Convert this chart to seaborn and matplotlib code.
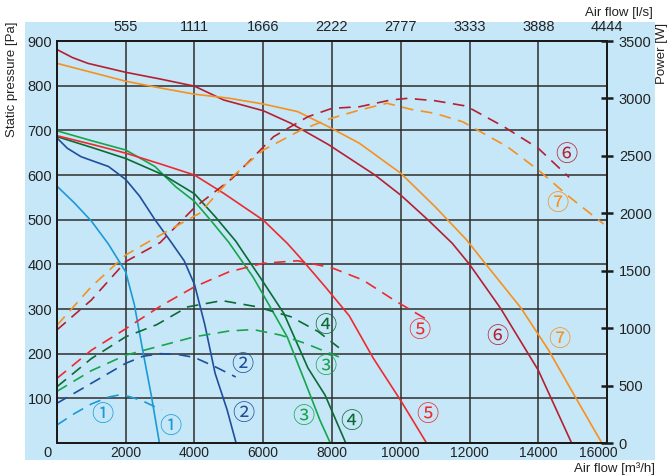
import numpy as np
import matplotlib.pyplot as plt
import seaborn as sns
import pandas as pd
from matplotlib.patches import Rectangle
from matplotlib.transforms import ScaledTranslation

# static pressure curves [Pa] vs air flow [m3/h]
flow_p1 = [0, 500, 1000, 1500, 2000, 2250, 2500, 2750, 2980]
pa_1 = [575, 538, 497, 445, 383, 310, 205, 104, 0]
flow_p2 = [0, 300, 700, 1500, 2000, 2400, 2850, 3300, 3700, 4000, 4300, 4600, 4950, 5210]
pa_2 = [683, 660, 641, 619, 590, 553, 500, 452, 408, 355, 265, 156, 74, 0]
flow_p3 = [0, 1000, 2000, 2850, 3450, 4000, 4500, 5000, 5700, 6200, 6700, 7200, 7650, 7950]
pa_3 = [699, 677, 656, 619, 574, 541, 496, 449, 372, 305, 237, 140, 51, 0]
flow_p4 = [0, 1000, 2000, 3100, 4000, 4600, 5200, 5900, 6600, 7300, 7800, 8400]
pa_4 = [686, 662, 637, 600, 558, 507, 452, 372, 290, 168, 107, 0]
flow_p5 = [0, 1000, 2000, 3000, 4000, 4850, 6000, 6700, 7200, 7800, 8500, 9200, 10000, 10750]
pa_5 = [688, 669, 649, 625, 600, 559, 499, 447, 404, 350, 285, 190, 95, 0]
flow_p6 = [0, 450, 900, 2000, 3000, 4000, 4850, 6000, 6800, 7900, 9250, 10000, 10800, 11500, 12000, 12900, 14000, 14970]
pa_6 = [881, 863, 850, 830, 815, 799, 768, 744, 716, 668, 600, 555, 499, 447, 400, 302, 163, 0]
flow_p7 = [0, 1000, 2000, 3000, 4000, 5000, 6000, 7000, 7900, 8800, 10000, 11000, 11900, 12500, 13500, 14300, 15100, 15850]
pa_7 = [850, 830, 810, 795, 781, 772, 759, 742, 708, 671, 604, 529, 456, 398, 302, 208, 100, 0]

# power curves [W] vs air flow [m3/h]
flow_w1 = [0, 500, 1000, 1500, 1800, 2100, 2500, 3050]
w_1 = [157, 255, 340, 400, 418, 405, 365, 287]
flow_w2 = [0, 1000, 2000, 2500, 3000, 3500, 4000, 4600, 5200]
w_2 = [346, 520, 694, 755, 778, 772, 745, 664, 575]
flow_w3 = [0, 1000, 2000, 3000, 4000, 5000, 5700, 6500, 7200, 7700, 8200]
w_3 = [450, 630, 765, 845, 925, 975, 988, 940, 870, 810, 750]
flow_w4 = [0, 1000, 2000, 2900, 3800, 4800, 5800, 6800, 7600, 8200]
w_4 = [490, 735, 925, 1030, 1185, 1240, 1187, 1100, 970, 830]
flow_w5 = [0, 1000, 2000, 3000, 4000, 5000, 6000, 7000, 8000, 8900, 9800, 10700]
w_5 = [563, 808, 995, 1190, 1360, 1490, 1565, 1587, 1525, 1419, 1245, 1086]
flow_w6 = [0, 1000, 2000, 3000, 4000, 5100, 6300, 7300, 8000, 8800, 9700, 10200, 11000, 11900, 13000, 14000, 14900]
w_6 = [985, 1245, 1580, 1745, 2050, 2305, 2667, 2841, 2914, 2928, 2986, 3001, 2980, 2934, 2754, 2566, 2313]
flow_w7 = [0, 1000, 2000, 2750, 3700, 4150, 5100, 6000, 7100, 7900, 8800, 9600, 10300, 11000, 11800, 13100, 14000, 14900, 15900]
w_7 = [1025, 1361, 1637, 1767, 1927, 2000, 2319, 2551, 2725, 2820, 2899, 2958, 2905, 2870, 2797, 2580, 2377, 2144, 1907]

fan_labels = ['①', '②', '③', '④', '⑤', '⑥', '⑦']
m3h_ticks = [0, 2000, 4000, 6000, 8000, 10000, 12000, 14000, 16000]
ls_labels = ['555', '1111', '1666', '2222', '2777', '3333', '3888', '4444']
pa_ticks = [0, 100, 200, 300, 400, 500, 600, 700, 800, 900]
w_ticks = [0, 500, 1000, 1500, 2000, 2500, 3000, 3500]

colors = ['#1a9ad6', '#1e4f9c', '#17a54a', '#0b6b34', '#ee2a2e', '#b52030', '#f7901e']

# where the circled numbers sit (flow, Pa) : pressure label, power label
label_pos = [((3290, 37), (1320, 63)),
             ((5420, 65), (5390, 175)),
             ((7165, 59), (7795, 171)),
             ((8565, 48), (7795, 264)),
             ((10780, 63), (10545, 251)),
             ((12810, 238), (14825, 645)),
             ((14605, 231), (14555, 537))]

sns.set_theme(style='white')
plt.rcParams['font.family'] = ['Liberation Sans', 'DejaVu Sans']

pressure = [(flow_p1, pa_1), (flow_p2, pa_2), (flow_p3, pa_3), (flow_p4, pa_4),
            (flow_p5, pa_5), (flow_p6, pa_6), (flow_p7, pa_7)]
power = [(flow_w1, w_1), (flow_w2, w_2), (flow_w3, w_3), (flow_w4, w_4),
         (flow_w5, w_5), (flow_w6, w_6), (flow_w7, w_7)]

fig = plt.figure(figsize=(6.68, 4.76), dpi=100)
fig.patch.set_facecolor('white')
fig.patches.append(Rectangle((0.0374, 0.0336), 0.943, 0.9202, transform=fig.transFigure,
                             facecolor='#c6e7f8', edgecolor='none', zorder=-10))

ax = fig.add_axes([0.0853, 0.0693, 0.8234, 0.8445])
ax.set_facecolor('none')
ax2 = ax.twinx()

for i in range(7):
    fx, fy = pressure[i]
    sns.lineplot(x=fx, y=fy, ax=ax, color=colors[i], lw=1.2, legend=False)
    wx, wy = power[i]
    sns.lineplot(x=wx, y=wy, ax=ax2, color=colors[i], lw=1.2, legend=False,
                 linestyle=(0, (7, 4.5)))
    for (lx, ly) in label_pos[i]:
        ax.text(lx, ly, fan_labels[i], color=colors[i], fontsize=16,
                family=['Noto Sans CJK JP', 'DejaVu Sans'], ha='center', va='center')

ax.set_xlim(0, 16000)
ax.set_ylim(0, 900)
ax2.set_ylim(0, 3500)
ax.set_xlabel('')
ax.set_ylabel('')

ax.set_xticks(m3h_ticks, labels=[''] + [str(t) for t in m3h_ticks[1:]])
ax.set_yticks(pa_ticks, labels=[''] + [str(t) for t in pa_ticks[1:]])
ax.text(-0.0164, -0.025, '0', transform=ax.transAxes, ha='center', va='center',
        fontsize=10.5, color='#222222')
ax.grid(True, color='#2e2e2e', lw=1.1)
ax.set_axisbelow(True)
ax.tick_params(axis='both', length=0, labelcolor='#222222')
ax.tick_params(axis='x', pad=2.5, labelsize=10)
ax.tick_params(axis='y', pad=3.5, labelsize=10.5)

# nudge the last bottom label left so it clears the right axis "0"
last = ax.get_xticklabels()[-1]
last.set_transform(last.get_transform() + ScaledTranslation(-6 / 72, 0, fig.dpi_scale_trans))

ax2.set_yticks(w_ticks)
ax2.tick_params(axis='y', direction='inout', length=9, width=1.8, color='#1a1a1a',
                labelsize=10.5, labelcolor='#222222', pad=4)

top = ax.secondary_xaxis('top')
top.set_xticks(m3h_ticks[1:], labels=ls_labels)
top.tick_params(length=0, labelsize=10.5, labelcolor='#222222', pad=5)
top.spines['top'].set_visible(False)

for a in (ax, ax2):
    for s in a.spines.values():
        s.set_color('#1a1a1a')
        s.set_linewidth(1.3)

fig.text(0.018, 0.833, 'Static pressure [Pa]', rotation=90, ha='center', va='center',
         fontsize=9.5, color='#222222')
fig.text(0.991, 0.888, 'Power [W]', rotation=90, ha='center', va='center',
         fontsize=9.5, color='#222222')
fig.text(0.978, 0.973, 'Air flow [l/s]', ha='right', va='center', fontsize=9.5, color='#222222')
fig.text(0.981, 0.030, 'Air flow [m³/h]', ha='right', va='top', fontsize=9.5, color='#222222')

plt.savefig('out.png', dpi=100)
plt.close()
